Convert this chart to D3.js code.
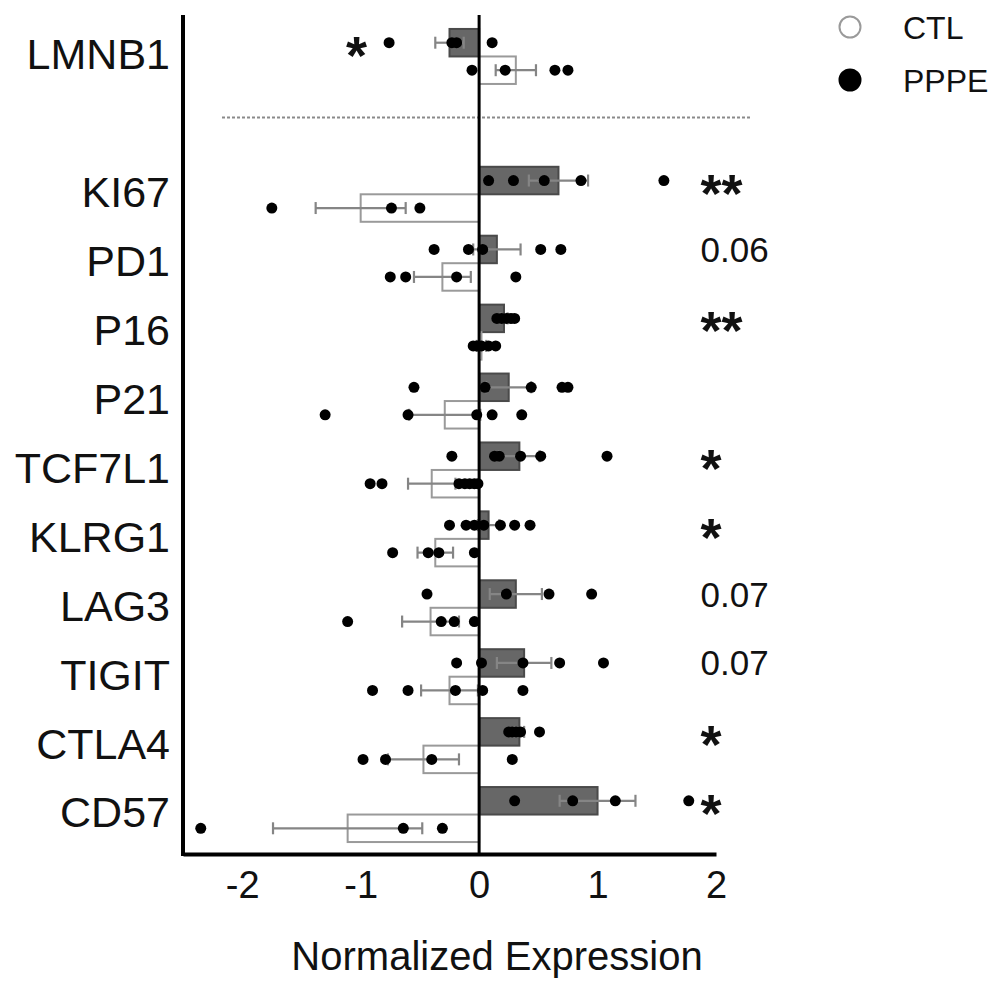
<!DOCTYPE html>
<html>
<head>
<meta charset="utf-8">
<script src="https://cdn.jsdelivr.net/npm/d3@7"></script>
<style>
  html, body { margin: 0; padding: 0; background: #fff; }
  svg { display: block; font-family: "Liberation Sans", Arial, sans-serif; }
</style>
</head>
<body>
<svg id="chart" width="1008" height="996"></svg>
<script>
// genes, top to bottom (LMNB1 sits apart, above the dashed line)
const genes = ["LMNB1", "KI67", "PD1", "P16", "P21", "TCF7L1", "KLRG1", "LAG3", "TIGIT", "CTLA4", "CD57"];

// PPPE (filled bars) - mean and SEM
const pppeMean = [-0.25, 0.67, 0.15, 0.21, 0.25, 0.34, 0.08, 0.31, 0.38, 0.34, 1.0];
const pppeSem  = [0.12, 0.25, 0.20, 0.03, 0.19, 0.17, 0.09, 0.22, 0.23, 0.04, 0.32];

// CTL (open bars) - mean and SEM
const ctlMean = [0.31, -1.0, -0.31, 0.02, -0.29, -0.40, -0.37, -0.41, -0.25, -0.47, -1.11];
const ctlSem  = [0.17, 0.38, 0.24, 0.04, 0.30, 0.20, 0.15, 0.24, 0.24, 0.30, 0.63];

// individual samples
const pppePts = [
  [-0.76, -0.23, -0.19, 0.11],
  [0.08, 0.29, 0.55, 0.86, 1.56],
  [-0.38, -0.09, 0.03, 0.52, 0.69],
  [0.15, 0.19, 0.23, 0.27, 0.30],
  [-0.55, 0.05, 0.44, 0.70, 0.75],
  [-0.23, 0.13, 0.17, 0.35, 0.52, 1.08],
  [-0.25, -0.11, -0.04, 0.04, 0.18, 0.30, 0.43],
  [-0.44, 0.23, 0.59, 0.95],
  [-0.19, 0.02, 0.37, 0.68, 1.05],
  [0.25, 0.28, 0.31, 0.35, 0.51],
  [0.30, 0.79, 1.15, 1.77]
];
const ctlPts = [
  [-0.06, 0.22, 0.64, 0.75],
  [-1.75, -0.74, -0.50],
  [-0.75, -0.62, -0.19, 0.31],
  [-0.05, -0.02, 0.02, 0.08, 0.14],
  [-1.30, -0.60, -0.02, 0.11, 0.36],
  [-0.92, -0.82, -0.17, -0.12, -0.08, -0.04, -0.01],
  [-0.73, -0.43, -0.34, -0.04],
  [-1.11, -0.32, -0.21, -0.04],
  [-0.90, -0.60, -0.20, 0.03, 0.37],
  [-0.98, -0.79, -0.40, 0.28],
  [-2.35, -0.64, -0.31]
];

// significance labels (PPPE vs CTL)
const sigLabels = ["*", "**", "0.06", "**", "", "*", "*", "0.07", "0.07", "*", "*"];

const xTicks = [-2, -1, 0, 1, 2];
const groups = ["CTL", "PPPE"];

const svg = d3.select("#chart");

const x = d3.scaleLinear().domain([-2.5, 2]).range([183, 716]);

// one empty slot between LMNB1 and the rest
const slots = [genes[0], "gap", ...genes.slice(1)];
const y = d3.scaleBand().domain(slots).range([22, 849]);
const center = g => y(g) + y.bandwidth() / 2;
const sub = d3.scaleBand().domain(["PPPE", "CTL"]).range([-27.5, 27.5]);
const rowY = (g, grp) => center(g) + sub(grp) + sub.bandwidth() / 2;

const rows = genes.map((g, i) => ({
  gene: g,
  series: [
    { grp: "PPPE", mean: pppeMean[i], sem: pppeSem[i], pts: pppePts[i] },
    { grp: "CTL", mean: ctlMean[i], sem: ctlSem[i], pts: ctlPts[i] }
  ],
  sig: sigLabels[i]
}));
const series = rows.flatMap(r => r.series.map(s => ({ ...s, gene: r.gene })));

// dashed separator
const gapY = center("gap") - 8;
svg.append("line")
  .attr("x1", 222).attr("x2", 752)
  .attr("y1", gapY).attr("y2", gapY)
  .attr("stroke", "#8a8a8a")
  .attr("stroke-width", 2)
  .attr("stroke-dasharray", "3,2");

// bars
svg.append("g")
  .selectAll("rect")
  .data(series)
  .join("rect")
  .attr("x", d => x(Math.min(0, d.mean)))
  .attr("width", d => Math.abs(x(d.mean) - x(0)))
  .attr("y", d => center(d.gene) + sub(d.grp))
  .attr("height", sub.bandwidth())
  .attr("fill", d => d.grp === "PPPE" ? "#676767" : "#fff")
  .attr("stroke", d => d.grp === "PPPE" ? "#4a4a4a" : "#9a9a9a")
  .attr("stroke-width", 2);

// error bars
const err = svg.append("g")
  .attr("stroke", "#858585")
  .attr("stroke-width", 2.2);
series.forEach(d => {
  const cy = rowY(d.gene, d.grp);
  const lo = x(d.mean - d.sem), hi = x(d.mean + d.sem);
  err.append("line").attr("x1", lo).attr("x2", hi).attr("y1", cy).attr("y2", cy);
  [lo, hi].forEach(cx => {
    err.append("line").attr("x1", cx).attr("x2", cx).attr("y1", cy - 6).attr("y2", cy + 6);
  });
});

// axes
svg.append("line")
  .attr("x1", x(0)).attr("x2", x(0))
  .attr("y1", 15).attr("y2", 855)
  .attr("stroke", "#000").attr("stroke-width", 3);

svg.append("line")
  .attr("x1", x.range()[0]).attr("x2", x.range()[0])
  .attr("y1", 15).attr("y2", 856)
  .attr("stroke", "#000").attr("stroke-width", 4);

const xAxis = svg.append("g")
  .attr("transform", "translate(0,854)")
  .call(d3.axisBottom(x).tickValues(xTicks).tickSize(0).tickPadding(17).tickFormat(d => String(d)));
xAxis.select(".domain").attr("stroke", "#000").attr("stroke-width", 4);
xAxis.selectAll("text")
  .attr("font-size", 38)
  .attr("font-family", "Liberation Sans, Arial, sans-serif")
  .attr("fill", "#111");

const yAxis = svg.append("g")
  .attr("transform", `translate(${x.range()[0]},0)`)
  .call(d3.axisLeft(y).tickValues(genes).tickSize(0).tickPadding(13));
yAxis.select(".domain").remove();
yAxis.selectAll("text")
  .attr("font-size", 43)
  .attr("dy", "0.3em")
  .attr("font-family", "Liberation Sans, Arial, sans-serif")
  .attr("fill", "#111");

svg.append("text")
  .attr("x", 497).attr("y", 970)
  .attr("text-anchor", "middle")
  .attr("font-size", 40)
  .attr("fill", "#111")
  .text("Normalized Expression");

// sample points
svg.append("g")
  .selectAll("circle")
  .data(series.flatMap(d => d.pts.map(v => ({ v, gene: d.gene, grp: d.grp }))))
  .join("circle")
  .attr("cx", d => x(d.v))
  .attr("cy", d => rowY(d.gene, d.grp))
  .attr("r", 5.5)
  .attr("fill", "#000");

// significance marks
const sig = svg.append("g").attr("fill", "#111");
rows.filter(r => r.sig).forEach(r => {
  const cy = rowY(r.gene, "PPPE");
  const star = r.sig.startsWith("*");
  const leftSide = r.series[0].mean < 0;
  const xs = leftSide ? x(d3.min(r.series[0].pts)) - 22 : x(1.87);
  sig.append("text")
    .attr("x", xs)
    .attr("y", star ? cy + 31 : cy + 12.5)
    .attr("text-anchor", leftSide ? "end" : "start")
    .attr("font-size", star ? 54 : 35)
    .attr("font-weight", star ? "bold" : "normal")
    .text(r.sig);
});

// legend
const legend = svg.append("g");
groups.forEach((grp, i) => {
  const ly = 27 + i * 53;
  legend.append("circle")
    .attr("cx", 850).attr("cy", ly).attr("r", 10.5)
    .attr("fill", grp === "PPPE" ? "#000" : "#fff")
    .attr("stroke", grp === "PPPE" ? "#000" : "#9a9a9a")
    .attr("stroke-width", 2);
  legend.append("text")
    .attr("x", 903).attr("y", ly + 11.5)
    .attr("font-size", 32)
    .attr("fill", "#111")
    .text(grp);
});
</script>
</body>
</html>
